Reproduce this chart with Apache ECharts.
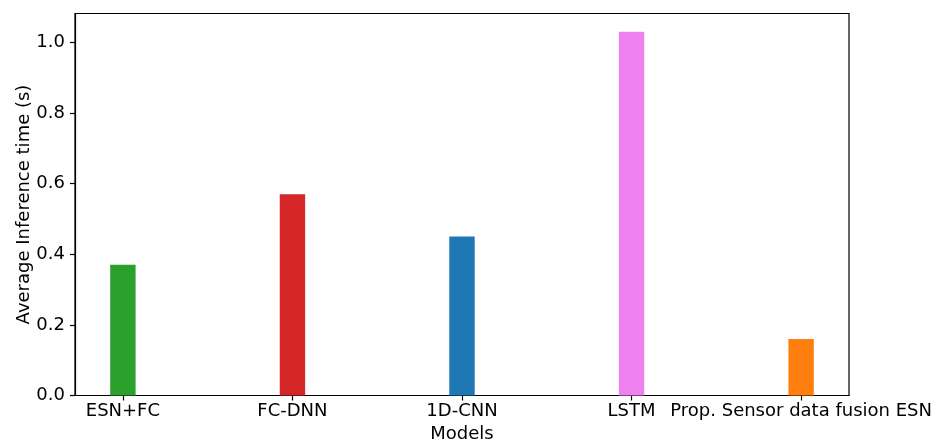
<!DOCTYPE html>
<html>
<head>
<meta charset="utf-8">
<script src="https://cdn.jsdelivr.net/npm/echarts@6/dist/echarts.min.js"></script>
<style>
html,body{margin:0;padding:0;background:#fff;}
#chart{width:939px;height:441px;}
</style>
</head>
<body>
<div id="chart"></div>
<script>
// Average inference time per model
const models = ['ESN+FC', 'FC-DNN', '1D-CNN', 'LSTM', 'Prop. Sensor data fusion ESN'];
const inferenceTime = [0.37, 0.57, 0.45, 1.03, 0.16];
const barColors = ['#2ca02c', '#d62728', '#1f77b4', '#ee82ee', '#ff7f0e'];
const yTicks = [0, 0.2, 0.4, 0.6, 0.8, 1.0];

const FONT = 'DejaVu Sans';
const FS = 18;
const chart = echarts.init(document.getElementById('chart'), null, {renderer: 'canvas'});

const positions = models.map((_, i) => i);
const seriesData = inferenceTime.map((v, i) => ({
  value: [i, v],
  itemStyle: {color: barColors[i]}
}));

chart.setOption({
  animation: false,
  grid: {
    left: 75, right: 90, top: 13.5, bottom: 45.5,
    show: true, borderColor: '#000', borderWidth: 1.2,
    containLabel: false, outerBoundsMode: 'none'
  },
  xAxis: {
    type: 'value',
    min: -0.2825,
    max: 4.2825,
    name: 'Models',
    nameLocation: 'middle',
    nameGap: 30,
    nameMoveOverlap: false,
    nameTextStyle: {fontFamily: FONT, fontSize: FS, color: '#000'},
    splitLine: {show: false},
    axisLine: {show: true, onZero: false, lineStyle: {color: '#000', width: 1.2}},
    axisTick: {show: true, customValues: positions, length: 5, lineStyle: {color: '#000', width: 1.2}},
    axisLabel: {
      customValues: positions,
      formatter: v => models[Math.round(v)] || '',
      fontFamily: FONT, fontSize: FS, color: '#000', margin: 7
    }
  },
  yAxis: {
    type: 'value',
    min: 0,
    max: 1.0815,
    name: 'Average Inference time (s)',
    nameLocation: 'middle',
    nameRotate: 90,
    nameGap: 42,
    nameMoveOverlap: false,
    nameTextStyle: {fontFamily: FONT, fontSize: FS, color: '#000'},
    splitLine: {show: false},
    axisLine: {show: true, onZero: false, lineStyle: {color: '#000', width: 1.2}},
    axisTick: {show: true, customValues: yTicks, length: 5, lineStyle: {color: '#000', width: 1.2}},
    axisLabel: {
      customValues: yTicks,
      formatter: v => v.toFixed(1),
      fontFamily: FONT, fontSize: FS, color: '#000', margin: 10
    }
  },
  series: [{
    type: 'bar',
    barWidth: 25.4,
    data: seriesData
  }]
});
</script>
</body>
</html>
